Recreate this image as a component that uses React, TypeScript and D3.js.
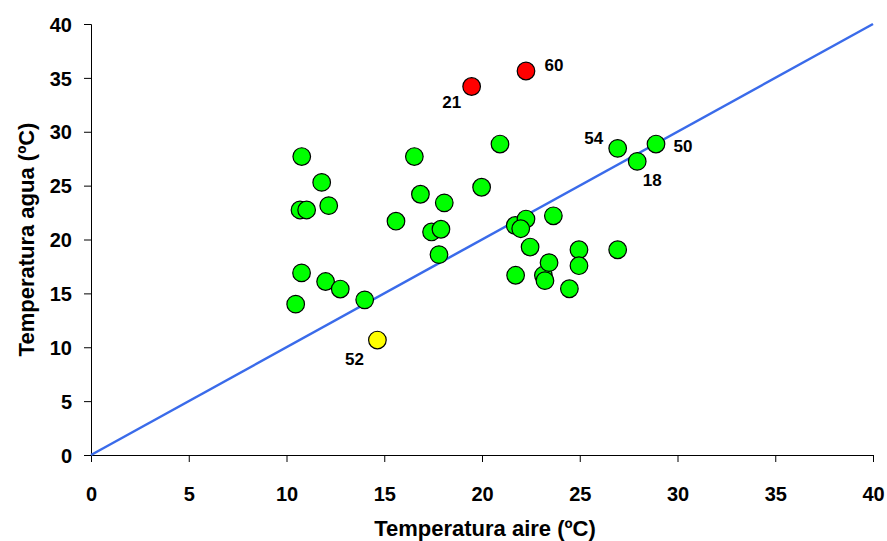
import React, { useEffect, useRef } from 'react';
import * as d3 from 'd3';

// air / water temperature per site (ºC)
const greenAir = [10.47, 10.77, 10.78, 10.69, 11.03, 11.8, 12.16, 12.0, 12.75, 14.0, 15.6, 16.54, 16.85, 17.42, 17.9, 18.07, 17.8, 19.98, 20.92, 21.7, 22.25, 21.98, 23.65, 22.46, 21.72, 23.14, 23.22, 23.43, 24.47, 24.96, 24.96, 26.94, 26.94, 27.94, 28.9];
const greenWater = [14.0, 16.9, 27.7, 22.74, 22.74, 25.3, 23.14, 16.1, 15.4, 14.4, 21.7, 27.7, 24.2, 20.7, 20.95, 23.4, 18.6, 24.85, 28.86, 21.3, 21.9, 21.0, 22.2, 19.3, 16.68, 16.68, 16.18, 17.85, 15.43, 19.05, 17.57, 19.05, 28.46, 27.25, 28.86];
const redAir = [19.47, 22.25];
const redWater = [34.2, 35.64];
const yellowAir = [14.65];
const yellowWater = [10.67];

// labelled sites: [air, water, label]
const labelledSites: [number, number, string][] = [
  [22.25, 35.64, '60'],
  [19.47, 34.2, '21'],
  [26.94, 28.46, '54'],
  [28.9, 28.86, '50'],
  [27.94, 27.25, '18'],
  [14.65, 10.67, '52'],
];

const ticks = [0, 5, 10, 15, 20, 25, 30, 35, 40];

const App = () => {
  const ref = useRef<SVGSVGElement>(null);

  useEffect(() => {
    if (!ref.current) return;
    const svg = d3.select(ref.current);
    svg.selectAll('*').remove();

    const margin = { top: 24, right: 14, bottom: 86, left: 91 };
    const width = 887 - margin.left - margin.right;
    const height = 541 - margin.top - margin.bottom;
    const font = '"Liberation Sans", Arial, sans-serif';

    const g = svg.append('g').attr('transform', `translate(${margin.left},${margin.top})`);

    const x = d3.scaleLinear().domain([0, 40]).range([0, width]);
    const y = d3.scaleLinear().domain([0, 40]).range([height, 0]);

    // axes
    const xAxis = g.append('g')
      .attr('transform', `translate(0,${height})`)
      .call(d3.axisBottom(x).tickValues(ticks).tickSize(7).tickPadding(25));
    const yAxis = g.append('g')
      .call(d3.axisLeft(y).tickValues(ticks).tickSize(7).tickPadding(12));

    [xAxis, yAxis].forEach(a => {
      a.selectAll('path, line').attr('stroke', '#000').attr('stroke-width', 1);
      a.selectAll('text')
        .attr('fill', '#000')
        .style('font-family', font)
        .style('font-size', '20px')
        .style('font-weight', 'bold');
    });
    yAxis.selectAll('text').attr('dy', '0.36em');

    // 1:1 line
    g.append('line')
      .attr('x1', x(0)).attr('y1', y(0))
      .attr('x2', x(40)).attr('y2', y(40))
      .attr('stroke', '#3A6BEA')
      .attr('stroke-width', 2.5);

    const drawPoints = (xs: number[], ys: number[], fill: string) => {
      g.append('g').selectAll('circle')
        .data(xs.map((v, i) => [v, ys[i]]))
        .enter()
        .append('circle')
        .attr('cx', d => x(d[0]))
        .attr('cy', d => y(d[1]))
        .attr('r', 8.8)
        .attr('fill', fill)
        .attr('stroke', '#000')
        .attr('stroke-width', 1.2);
    };
    drawPoints(greenAir, greenWater, '#00FF00');
    drawPoints(redAir, redWater, '#FF0000');
    drawPoints(yellowAir, yellowWater, '#FFFF00');

    // point labels
    const offsets: Record<string, [number, number]> = {
      '60': [28, -6],
      '21': [-20, 15],
      '54': [-24, -10],
      '50': [27, 2],
      '18': [15, 18],
      '52': [-23, 19],
    };
    g.append('g').selectAll('text')
      .data(labelledSites)
      .enter()
      .append('text')
      .attr('x', d => x(d[0]) + offsets[d[2]][0])
      .attr('y', d => y(d[1]) + offsets[d[2]][1])
      .attr('dy', '0.36em')
      .attr('text-anchor', 'middle')
      .style('font-family', font)
      .style('font-size', '17px')
      .style('font-weight', 'bold')
      .text(d => d[2]);

    // axis titles
    svg.append('text')
      .attr('x', 485)
      .attr('y', 536)
      .attr('text-anchor', 'middle')
      .style('font-family', font)
      .style('font-size', '22px')
      .style('font-weight', 'bold')
      .text('Temperatura aire (ºC)');

    svg.append('text')
      .attr('transform', `translate(34,${margin.top + height / 2}) rotate(-90)`)
      .attr('text-anchor', 'middle')
      .style('font-family', font)
      .style('font-size', '22px')
      .style('font-weight', 'bold')
      .text('Temperatura agua (ºC)');
  }, []);

  return (
    <svg
      ref={ref}
      width={887}
      height={541}
      style={{ position: 'absolute', left: 0, top: 0, background: '#fff' }}
    />
  );
};

export default App;
